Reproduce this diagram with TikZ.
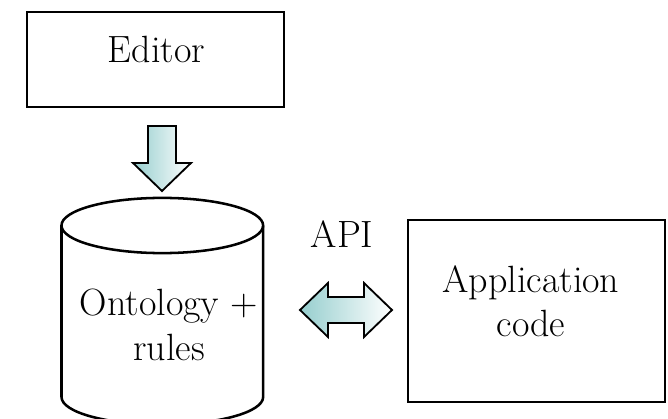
\documentclass[tikz,border=0pt]{standalone}
\usetikzlibrary{positioning}
\definecolor{arrowteal}{RGB}{150,206,206}
\tikzset{%
  plain box/.style={
    draw,
    line width=1.4pt
  },
  big text/.style={
    font=\fontsize{27}{31}\selectfont,
    align=center,
    inner sep=0pt
  },
  block arrow/.style={
    draw,
    line width=1.3pt,
    line join=miter,
    shading=axis,
    left color=arrowteal,
    right color=white,
    shading angle=90
  },
  store line/.style={
    line width=1.8pt
  },
}

\begin{document}
\begin{tikzpicture}[x=0.025cm, y=-0.025cm]
\clip (0,0) rectangle (668,419);
    % the two boxes
    \node[plain box, minimum width=6.425cm, minimum height=2.375cm] (editor) at (155.5,59.5) {};
    \node[plain box, minimum width=6.425cm, minimum height=4.55cm] (app) at (536.5,311) {};
    \node[big text, anchor=base] (editor text) at (156.5,63) {Editor};
    \node[big text, anchor=base] (app text) at (531,336) {Application\\code};

    % the store
    \draw[store line] (162.3,225.5) ellipse [x radius=2.52cm, y radius=0.69cm];
    \draw[store line] (61.5,225.5) -- (61.5,397) arc [start angle=180, end angle=360, x radius=2.52cm, y radius=0.69cm] -- (263.1,225.5);
    \node[big text, anchor=base, font=\fontsize{27}{32}\selectfont] (store) at (169,360) {Ontology +\\rules};

    \node[big text, anchor=base] (api) at (342,247) {API};

    % arrows
    \draw[block arrow] (148,126) -- (176,126) -- (176,163) -- (191,163) -- (162,191)
        -- (133,163) -- (148,163) -- cycle;
    \draw[block arrow] (300,310) -- (328,283) -- (328,297) -- (364,297) -- (364,283)
        -- (392,310) -- (364,337) -- (364,323) -- (328,323) -- (328,337) -- cycle;
\end{tikzpicture}
\end{document}
